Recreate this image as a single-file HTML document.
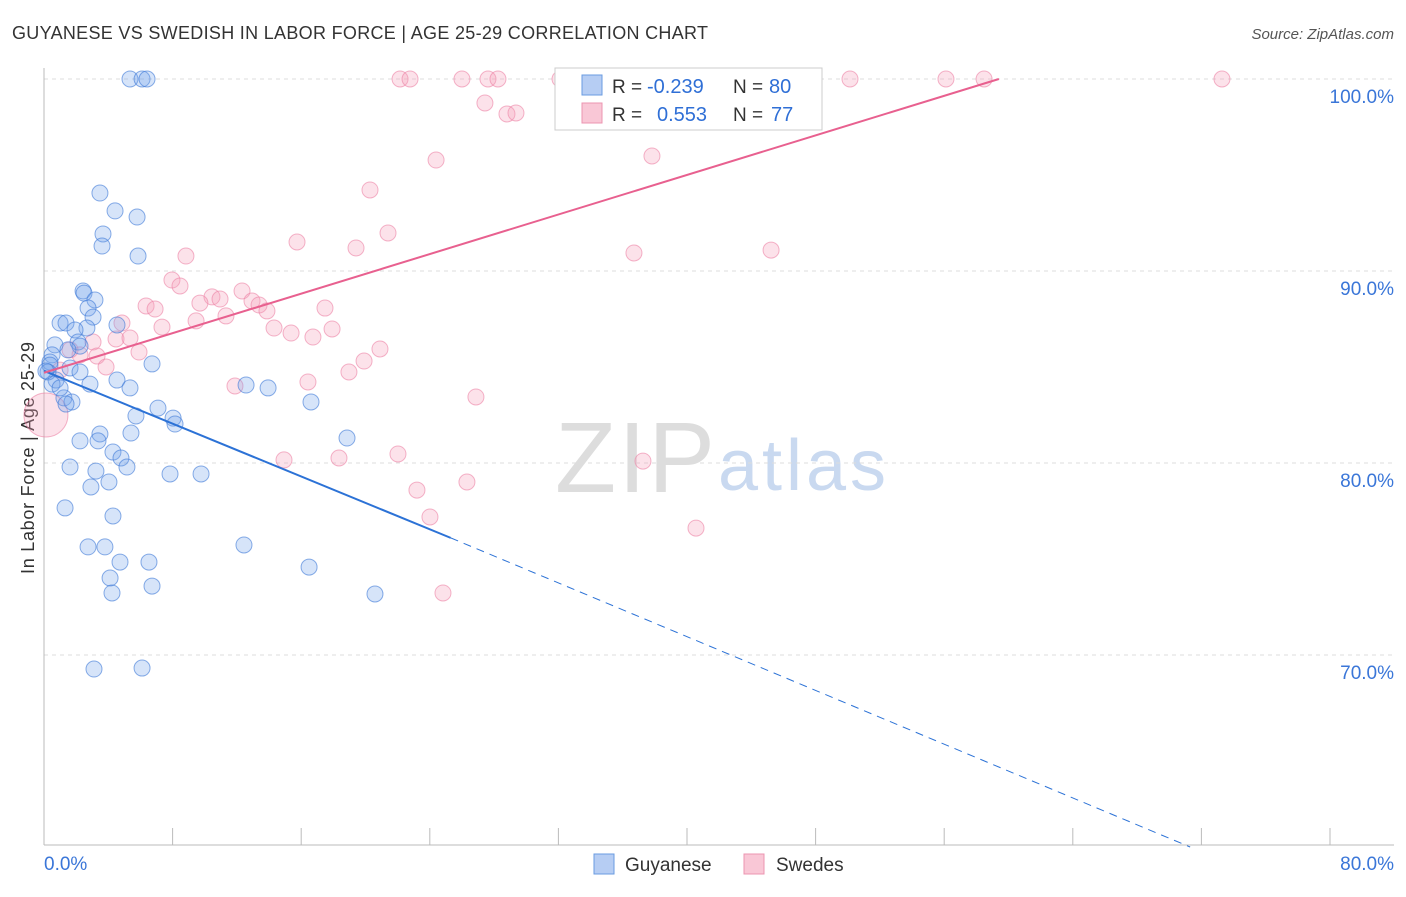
<!DOCTYPE html>
<html><head><meta charset="utf-8"><style>
body{margin:0;background:#fff;font-family:"Liberation Sans",sans-serif;}
svg text{font-family:"Liberation Sans",sans-serif;}
</style></head><body>
<svg id="c" width="1406" height="892">
<text x="12" y="39" font-size="18" fill="#333" textLength="696">GUYANESE VS SWEDISH IN LABOR FORCE | AGE 25-29 CORRELATION CHART</text>
<text x="1394" y="39" font-size="15" fill="#555" text-anchor="end" font-style="italic">Source: ZipAtlas.com</text>
<text x="555" y="492" font-size="100" fill="#ddd" textLength="160" font-family="Liberation Serif">ZIP</text>
<text x="718" y="490" font-size="72" fill="#c9d9f0" textLength="168">atlas</text>
<text transform="translate(34,458) rotate(-90)" font-size="18" fill="#333" text-anchor="middle" textLength="232">In Labor Force | Age 25-29</text>
<g id="grid"></g><g id="pts"></g><g id="lines"></g>
<g>
<rect x="555" y="68" width="267" height="62" fill="#fff" stroke="#ccc"/>
<rect x="582" y="75" width="20" height="20" fill="#b6cdf3" stroke="#6a9be0"/>
<rect x="582" y="103" width="20" height="20" fill="#f9c7d6" stroke="#ec94b0"/>
<text x="612" y="93" font-size="19" fill="#333">R =</text>
<text x="647" y="93" font-size="20" fill="#2f6fd6">-0.239</text>
<text x="733" y="93" font-size="19" fill="#333">N =</text>
<text x="769" y="93" font-size="20" fill="#2f6fd6">80</text>
<text x="612" y="121" font-size="19" fill="#333">R =</text>
<text x="657" y="121" font-size="20" fill="#2f6fd6">0.553</text>
<text x="733" y="121" font-size="19" fill="#333">N =</text>
<text x="771" y="121" font-size="20" fill="#2f6fd6">77</text>
</g>
<g>
<rect x="594" y="854" width="20" height="20" fill="#b6cdf3" stroke="#6a9be0"/>
<text x="625" y="871" font-size="19" fill="#333">Guyanese</text>
<rect x="744" y="854" width="20" height="20" fill="#f9c7d6" stroke="#ec94b0"/>
<text x="776" y="871" font-size="19" fill="#333">Swedes</text>
</g>
</svg>
<script>
const yTicks=[100,90,80,70];
const xTickLabels=["0.0%","80.0%"];
const blueX=[5.35,6.10,6.41,3.48,4.42,5.79,3.67,3.61,5.85,2.43,2.49,3.17,2.74,3.05,1.00,1.37,2.67,4.54,1.93,0.68,2.12,2.24,1.49,0.50,0.37,1.62,2.24,6.72,0.75,2.86,4.54,5.35,12.57,13.94,1.24,1.74,7.09,5.72,8.03,8.15,16.61,5.41,3.48,2.24,3.36,18.85,4.29,4.79,1.62,5.16,3.23,7.84,9.77,4.04,2.92,1.31,4.29,2.74,3.79,12.44,4.73,6.53,16.49,4.11,6.72,4.23,20.59,3.11,6.10,0.37,0.25,0.50,1.00,1.37,0.12];
const blueY=[100,100,100,94.06,93.13,92.81,91.93,91.30,90.78,88.96,88.85,88.49,88.07,87.60,87.29,87.29,87.03,87.19,86.93,86.15,86.30,86.09,85.89,85.63,85.26,84.95,84.74,85.16,84.32,84.11,84.32,83.91,84.06,83.91,83.39,83.18,82.86,82.45,82.34,82.03,83.18,81.56,81.51,81.15,81.15,81.30,80.57,80.26,79.79,79.79,79.58,79.43,79.43,79.01,78.75,77.66,77.24,75.63,75.63,75.73,74.84,74.84,74.58,74.01,73.59,73.23,73.18,69.27,69.32,85.10,84.74,84.11,83.91,83.07,84.79];
const pinkX=[22.15,22.77,26.00,27.62,28.24,32.10,35.34,38.94,42.05,43.30,50.14,56.11,58.48,73.28,27.43,28.80,29.36,24.39,37.82,20.28,21.40,15.74,19.41,8.83,36.70,45.23,7.96,8.46,12.32,10.45,10.95,9.70,12.94,6.35,6.91,13.38,13.87,17.48,9.46,11.32,7.34,4.85,14.31,15.37,17.92,16.73,4.48,5.35,3.05,20.90,19.91,5.91,3.30,2.24,18.97,3.86,16.42,11.88,26.87,14.93,18.35,22.02,37.26,23.20,26.31,24.01,40.56,24.82,1.62,1.00];
const pinkY=[100,100,100,100,100,100,100,100,100,100,100,100,100,100,98.75,98.18,98.23,95.78,95.99,94.22,91.98,91.51,91.20,90.78,90.94,91.09,89.53,89.22,88.96,88.65,88.54,88.33,88.44,88.18,88.02,88.23,87.92,88.07,87.40,87.66,87.08,87.29,87.03,86.77,86.98,86.56,86.46,86.51,86.30,85.94,85.31,85.78,85.57,85.63,84.74,85.00,84.22,84.01,83.44,80.16,80.26,80.47,80.10,78.59,79.01,77.19,76.61,73.23,85.89,84.84];
const pinkBig=[0.12,82.5];
const blueTrend=[0,84.8,25.3,76.1,71.3,60];
const pinkTrend=[0,84.7,59.4,100];
const NS="http://www.w3.org/2000/svg";
const X=v=>44+v/8*128.6, Y=v=>79+(100-v)*19.2;
function mk(t,a,p){const e=document.createElementNS(NS,t);for(const k in a)e.setAttribute(k,a[k]);p.appendChild(e);return e;}
const svg=document.getElementById('c'),grid=document.getElementById('grid'),pts=document.getElementById('pts'),lines=document.getElementById('lines');
yTicks.forEach(t=>{
 const l=mk('line',{x1:44,x2:1394,y1:Y(t),y2:Y(t),stroke:'#ddd','stroke-dasharray':'4,4'},grid);
 
 
 const tx=mk('text',{x:1394,y:Y(t)+24,'font-size':19,fill:'#3a76d8','text-anchor':'end'},grid);tx.textContent=t.toFixed(1)+'%';
 
 
});
const ax=mk('line',{x1:44,x2:1394,y1:845,y2:845,stroke:'#bbb'},grid);


const ay=mk('line',{x1:44,x2:44,y1:68,y2:845,stroke:'#bbb'},grid);


for(let i=0;i<=10;i++){const t=mk('line',{x1:X(i*8),x2:X(i*8),y1:828,y2:845,stroke:'#bbb'},grid);
 
 }
[[0,'start',44],[80,'end',1394]].forEach((d,i)=>{const t=mk('text',{x:d[2],y:870,'font-size':19,fill:'#3a76d8','text-anchor':d[1]},grid);t.textContent=xTickLabels[i];
 
 });
const big=mk('circle',{cx:X(pinkBig[0]),cy:Y(pinkBig[1]),r:22,fill:'rgba(245,160,185,0.3)',stroke:'rgba(236,130,165,0.6)'},pts);


pinkX.forEach((x,i)=>{const c=mk('circle',{cx:X(x),cy:Y(pinkY[i]),r:8,fill:'rgba(245,160,185,0.3)',stroke:'rgba(236,130,165,0.6)'},pts);
 
 });
blueX.forEach((x,i)=>{const c=mk('circle',{cx:X(x),cy:Y(blueY[i]),r:8,fill:'rgba(120,165,235,0.3)',stroke:'rgba(60,120,215,0.6)'},pts);
 
 });
const b1=mk('line',{x1:X(blueTrend[0]),y1:Y(blueTrend[1]),x2:X(blueTrend[2]),y2:Y(blueTrend[3]),stroke:'#2c72d6','stroke-width':2},lines);


const b2=mk('line',{x1:X(blueTrend[2]),y1:Y(blueTrend[3]),x2:X(blueTrend[4]),y2:Y(blueTrend[5]),stroke:'#2c72d6','stroke-width':1,'stroke-dasharray':'8,6'},lines);


const p1=mk('line',{x1:X(pinkTrend[0]),y1:Y(pinkTrend[1]),x2:X(pinkTrend[2]),y2:Y(pinkTrend[3]),stroke:'#e8608f','stroke-width':2},lines);


</script>
</body></html>
